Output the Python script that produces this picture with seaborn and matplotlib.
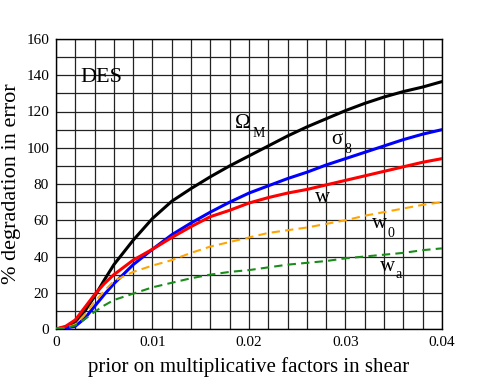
import matplotlib
matplotlib.use("Agg")
import matplotlib.pyplot as plt
import seaborn as sns
import pandas as pd
import numpy as np

# ---- data ----
x_prior = [0, 0.001, 0.002, 0.003, 0.004, 0.005, 0.006, 0.008, 0.010, 0.012,
           0.014, 0.016, 0.018, 0.020, 0.022, 0.024, 0.026, 0.028, 0.030,
           0.032, 0.034, 0.036, 0.038, 0.040]
omega_m = [0, 1, 4, 10, 18, 27, 35.5, 49, 61, 70.5,
           77.5, 84, 90, 95.5, 101, 106.5, 111.5, 116, 120.5,
           124.5, 128, 131, 133.5, 136.5]
sigma_8 = [0, 0.5, 1.5, 6, 12.5, 19, 25, 35.5, 44, 52,
           58.5, 64.5, 70, 75, 79, 83, 86.5, 90.5, 94,
           97.5, 101, 104.5, 107.5, 110]
w_vals = [0, 1.5, 5, 12, 19, 25, 30, 38, 44, 50.5,
          56.5, 62, 65.5, 69.5, 72.5, 75, 77, 79.5, 82,
          84.5, 87, 89.5, 92, 94]
w0_vals = [0, 0.5, 2.5, 8, 15, 21, 26.5, 31.5, 35, 38,
           42, 45.5, 48, 50.5, 53, 54.5, 56, 58, 60,
           62.5, 64.5, 66.5, 68.5, 70]
wa_vals = [0, 0.5, 2, 5.5, 9.5, 13, 16, 19.5, 23, 25.5,
           28, 30, 31.5, 32.5, 34, 35.5, 36.5, 37.5, 39,
           40, 41, 42, 43.5, 44.5]

xticks = [0, 0.01, 0.02, 0.03, 0.04]
xtick_labels = ["0", "0.01", "0.02", "0.03", "0.04"]
yticks = [0, 20, 40, 60, 80, 100, 120, 140, 160]

sns.set_style("white")
plt.rcParams['font.family'] = ['Liberation Serif', 'DejaVu Serif']
plt.rcParams['text.color'] = 'black'
plt.rcParams['axes.labelcolor'] = 'black'
plt.rcParams['xtick.color'] = 'black'
plt.rcParams['ytick.color'] = 'black'

fig = plt.figure(figsize=(4.85, 3.88), dpi=100)
ax = fig.add_axes([56/485, 59/388, (442-56)/485, (329-39)/388])

series = [
    (omega_m, "black", "-", 2.2),
    (sigma_8, "#0000ff", "-", 2.2),
    (w_vals, "#ff0000", "-", 2.2),
    (w0_vals, "#ffa500", (0, (4, 2.5)), 1.5),
    (wa_vals, "#1a8c1a", (0, (4, 2.5)), 1.5),
]
for vals, col, ls, lw in series:
    df = pd.DataFrame({"x": x_prior, "y": vals})
    sns.lineplot(data=df, x="x", y="y", ax=ax, color=col, linestyle=ls,
                 linewidth=lw, zorder=3)

ax.set_xlim(0, 0.04)
ax.set_ylim(0, 160)
ax.set_xticks(xticks)
ax.set_xticklabels(xtick_labels)
ax.set_yticks(yticks)
ax.set_xticks(np.arange(0, 0.0401, 0.002), minor=True)
ax.set_yticks(np.arange(0, 161, 10), minor=True)
ax.grid(True, which="both", color="#222222", linewidth=0.9, zorder=0)
ax.set_axisbelow(True)
ax.tick_params(which="both", length=0, labelsize=11, pad=5)
for s in ax.spines.values():
    s.set_color("black")
    s.set_linewidth(1.0)

ax.set_xlabel("prior on multiplicative factors in shear", fontsize=15, labelpad=6)
ax.set_ylabel("% degradation in error", fontsize=16, labelpad=4)

main_fs = 15
sub_fs = 10
ax.text(0.0025, 136, "DES", fontsize=16, ha="left", va="baseline")
ax.text(0.0185, 111, "Ω", fontsize=main_fs, ha="left", va="baseline")
ax.text(0.0204, 106, "M", fontsize=sub_fs, ha="left", va="baseline")
ax.text(0.0285, 102, "σ", fontsize=main_fs, ha="left", va="baseline")
ax.text(0.0299, 97, "8", fontsize=sub_fs, ha="left", va="baseline")
ax.text(0.0268, 70, "w", fontsize=main_fs, ha="left", va="baseline")
ax.text(0.0327, 56, "w", fontsize=main_fs, ha="left", va="baseline")
ax.text(0.0344, 51, "0", fontsize=sub_fs, ha="left", va="baseline")
ax.text(0.0336, 32, "w", fontsize=main_fs, ha="left", va="baseline")
ax.text(0.0352, 28, "a", fontsize=sub_fs, ha="left", va="baseline")

fig.savefig("out.png", dpi=100)
